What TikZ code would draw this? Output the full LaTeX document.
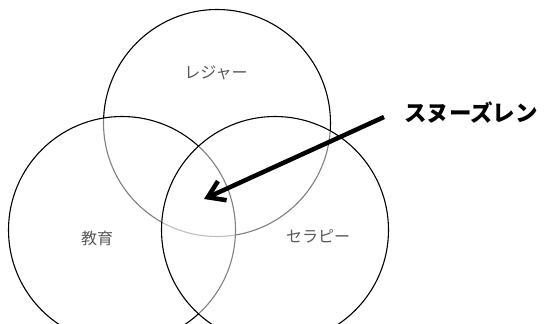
\documentclass[tikz,border=0pt]{standalone}
\usepackage{fontspec}
\newfontfamily\cjk{Noto Sans CJK JP}
\usetikzlibrary{arrows.meta}
\begin{document}
\begin{tikzpicture}[x=1pt,y=-1pt,
  ring/.style={circle,draw=black,line width=1.1pt,fill=white,fill opacity=0.5,draw opacity=1,minimum size=227pt,inner sep=0pt},
  lab/.style={font=\cjk\fontsize{16}{18}\selectfont,text=black!65,inner sep=0pt},
  big/.style={font=\cjk\bfseries\fontsize{22.5}{26}\selectfont,text=black,inner sep=0pt},
  pointer/.style={line width=4.5pt,-{Straight Barb[length=16pt,width=21pt]}}]
\useasboundingbox (0,0) rectangle (544,324);
\clip (0,0) rectangle (544,324);
\node[ring] (leisure) at (217,123) {};
\node[ring] (edu) at (122,230) {};
\node[ring] (therapy) at (275,230) {};
\node[lab] (tl) at (216,73) {レジャー};
\node[lab] (el) at (97,238) {教育};
\node[lab] (thl) at (318,236) {セラピー};
\node[big] (snoez) at (471,113) {スヌーズレン};
\coordinate (tail) at (384,117);
\coordinate (core) at (204,199);
\draw[pointer] (tail) -- (core);
\end{tikzpicture}
\end{document}
